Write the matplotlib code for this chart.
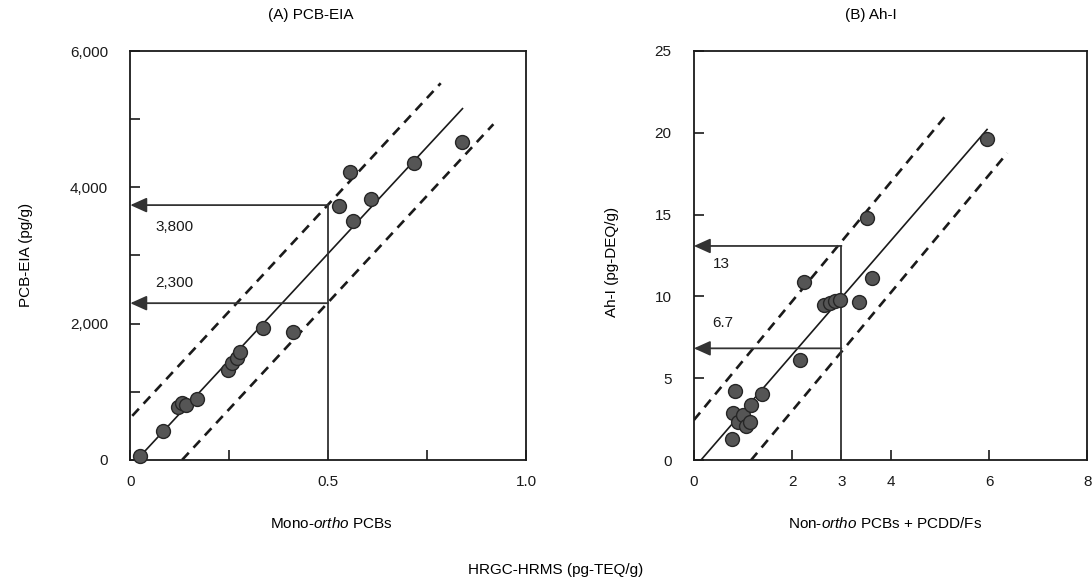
import matplotlib
matplotlib.use("Agg")
import matplotlib.pyplot as plt
import numpy as np

plt.rcParams.update({
    "font.family": "Liberation Sans",
    "font.size": 11,
    "mathtext.fontset": "custom",
    "mathtext.rm": "Liberation Sans",
    "mathtext.it": "Liberation Sans:italic",
    "lines.scale_dashes": False,
})

INK = "#1a1a1a"
GRAY = "#333333"
DOT_FC = "#555555"
DOT_EC = "#262626"

# -- (A) PCB-EIA vs mono-ortho PCBs --
mono_x = [0.024, 0.083, 0.121, 0.13, 0.14, 0.168, 0.248, 0.258, 0.27, 0.278,
          0.336, 0.412, 0.526, 0.554, 0.563, 0.607, 0.717, 0.837]
eia_y = [50, 420, 770, 830, 800, 900, 1320, 1420, 1500, 1590,
         1930, 1880, 3730, 4230, 3500, 3830, 4360, 4670]
# fit line + bands: (slope, intercept, x_start, x_end)
fit_a = (6270, -104, 0.017, 0.839)
upper_a = (6270, 614, 0.005, 0.784)
lower_a = (6270, -822, 0.131, 0.917)
cut_a = 0.5
levels_a = [3740, 2300]
labels_a = ["3,800", "2,300"]
label_y_a = [3420, 2590]

# -- (B) Ah-I vs non-ortho PCBs + PCDD/Fs --
nonortho_x = [0.77, 0.84, 0.80, 0.90, 1.0, 1.05, 1.14, 1.17, 1.38, 2.16, 2.23,
              2.64, 2.76, 2.87, 2.97, 3.35, 3.52, 3.63, 5.96]
ahi_y = [1.3, 4.2, 2.86, 2.35, 2.76, 2.1, 2.35, 3.37, 4.04, 6.12, 10.9,
         9.48, 9.6, 9.7, 9.78, 9.68, 14.77, 11.1, 19.6]
fit_b = (3.47, -0.49, 0.14, 5.96)
upper_b = (3.63, 2.45, 0.0, 5.14)
lower_b = (3.6, -4.18, 1.16, 6.37)
cut_b = 3
levels_b = [13.08, 6.83]
labels_b = ["13", "6.7"]
label_y_b = [11.96, 8.36]

fig = plt.figure(figsize=(10.92, 5.85), dpi=100)
ax1 = fig.add_axes([0.1193, 0.2140, 0.3626, 0.6985])
ax2 = fig.add_axes([0.6354, 0.2133, 0.3604, 0.7000])


def draw_line(ax, spec, dashed=False):
    slope, icpt, x0, x1 = spec
    xs = np.array([x0, x1])
    if dashed:
        ax.plot(xs, slope * xs + icpt, color=INK, lw=1.9, dashes=(7, 5),
                solid_capstyle="butt", zorder=2)
    else:
        ax.plot(xs, slope * xs + icpt, color=INK, lw=1.2, zorder=2)


def panel(ax, xs, ys, fit, up, lo, cut, levels, labels, label_y, label_x):
    draw_line(ax, fit)
    draw_line(ax, up, dashed=True)
    draw_line(ax, lo, dashed=True)
    ax.plot([cut, cut], [0, max(levels)], color=GRAY, lw=1.3, zorder=2)
    for lev, lab, ly in zip(levels, labels, label_y):
        ax.annotate("", xy=(0, lev), xytext=(cut, lev),
                    arrowprops=dict(arrowstyle="-|>,head_length=1.0,head_width=0.45",
                                    color=GRAY, lw=1.3, shrinkA=0, shrinkB=0,
                                    mutation_scale=10), zorder=3)
        ax.text(label_x, ly, lab, fontsize=11, ha="left", va="center", color=INK)
    ax.scatter(xs, ys, s=100, facecolor=DOT_FC, edgecolor=DOT_EC, linewidth=1.0,
               zorder=4, clip_on=False)
    for sp in ax.spines.values():
        sp.set_linewidth(1.3)
        sp.set_color(INK)
    ax.tick_params(direction="in", length=7, width=1.2, color=INK,
                   labelsize=11, labelcolor=INK)
    ax.tick_params(axis="y", pad=16)
    ax.tick_params(axis="x", pad=11)


panel(ax1, mono_x, eia_y, fit_a, upper_a, lower_a, cut_a,
      levels_a, labels_a, label_y_a, 0.063)
ax1.set_xlim(0, 1.0)
ax1.set_ylim(0, 6000)
ax1.set_xticks([0, 0.25, 0.5, 0.75, 1.0])
ax1.set_xticklabels(["0", "", "0.5", "", "1.0"])
ax1.set_yticks([0, 1000, 2000, 3000, 4000, 5000, 6000])
ax1.set_yticklabels(["0", "", "2,000", "", "4,000", "", "6,000"])

panel(ax2, nonortho_x, ahi_y, fit_b, upper_b, lower_b, cut_b,
      levels_b, labels_b, label_y_b, 0.38)
ax2.set_xlim(0, 8)
ax2.set_ylim(0, 25)
ax2.set_xticks([0, 2, 3, 4, 6, 8])
ax2.set_xticklabels(["0", "2", "3", "4", "6", "8"])
ax2.set_yticks([0, 5, 10, 15, 20, 25])

# titles and axis labels
fig.text(310.7 / 1092, 1 - 15 / 585, "(A) PCB-EIA", ha="center", va="center", fontsize=11)
fig.text(870.7 / 1092, 1 - 15 / 585, "(B) Ah-I", ha="center", va="center", fontsize=11)
fig.text(26 / 1092, 1 - 255 / 585, "PCB-EIA (pg/g)", rotation=90,
         ha="center", va="center", fontsize=11)
fig.text(612 / 1092, 1 - 262 / 585, "Ah-I (pg-DEQ/g)", rotation=90,
         ha="center", va="center", fontsize=11)
fig.text(331 / 1092, 1 - 524 / 585, "Mono-$\\mathit{ortho}$ PCBs",
         ha="center", va="center", fontsize=11)
fig.text(885 / 1092, 1 - 524 / 585, "Non-$\\mathit{ortho}$ PCBs + PCDD/Fs",
         ha="center", va="center", fontsize=11)
fig.text(556 / 1092, 1 - 570 / 585, "HRGC-HRMS (pg-TEQ/g)",
         ha="center", va="center", fontsize=11)

fig.savefig("out.png", dpi=100, facecolor="white")
